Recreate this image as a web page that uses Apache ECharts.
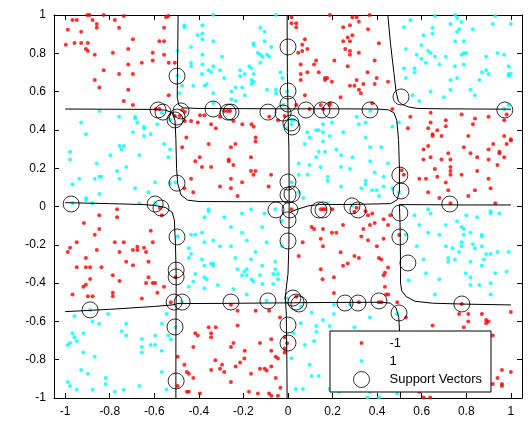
<!DOCTYPE html>
<html><head><meta charset="utf-8">
<script src="https://cdn.jsdelivr.net/npm/echarts@6/dist/echarts.min.js"></script>
<style>html,body{margin:0;padding:0;background:#fff}#c{width:532px;height:421px}</style>
</head><body><div id="c"></div>
<script>
var xTicks = [-1,-0.8,-0.6,-0.4,-0.2,0,0.2,0.4,0.6,0.8,1];
var yTicks = [-1,-0.8,-0.6,-0.4,-0.2,0,0.2,0.4,0.6,0.8,1];
var seriesNames = ['-1','1','Support Vectors'];

var classNeg = [
[-0.90,1.0],[-0.89,1.0],[-0.827,1.0],[-0.737,0.995],[-0.967,0.974],[-0.948,0.974],[-0.877,0.974],[-0.777,0.974],[-0.858,0.953],[-0.858,0.934],[-0.758,0.934],[-0.988,0.923],[-0.928,0.913],[-0.997,0.845],[-0.958,0.854],[-0.928,0.854],[-0.898,0.854],[-0.696,0.873],[-0.907,0.823],[-0.898,0.812],[-0.867,0.793],[-0.786,0.803],[-0.717,0.823],[-0.607,0.803],[-0.556,0.793],[-0.577,0.863],[-0.556,0.863],[-0.556,0.934],[-0.547,0.988],[-0.537,0.995],[-0.656,0.751],[-0.717,0.742],[-0.607,0.762],[-0.535,0.751],[-0.827,0.711],[-0.758,0.692],[-0.696,0.692],[-0.867,0.661],[-0.846,0.621],[-0.717,0.610],[-0.737,0.551],[-0.696,0.530],[-0.535,0.581],[-0.593,0.509],[-0.577,0.509],
[-0.508,0.751],[-0.475,0.504],[-0.463,0.495],[-0.486,0.473],[-0.508,0.473],[-0.463,0.447],[-0.435,0.447],[-0.405,0.438],[-0.395,0.476],[-0.375,0.476],[-0.345,0.429],[-0.324,0.408],[-0.305,0.469],[-0.286,0.499],[-0.271,0.499],[-0.260,0.499],[-0.245,0.447],[-0.205,0.429],[-0.164,0.429],[-0.154,0.417],[-0.084,0.469],[-0.045,0.450],[-0.015,0.473],[-0.456,0.360],[-0.145,0.360],
[0.016,0.988],[0.016,0.957],[0.037,0.957],[0.037,0.936],[0.188,1.0],[0.366,1.0],[0.289,0.988],[0.308,0.988],[0.318,0.965],[0.248,0.936],[0.278,0.946],[0.359,0.925],[0.076,0.873],[0.064,0.845],[0.087,0.823],[0.046,0.803],[0.064,0.812],[0.248,0.863],[0.268,0.883],[0.289,0.894],[0.278,0.863],[0.257,0.823],[0.278,0.812],[0.278,0.793],[0.318,0.803],[0.408,0.852],[0.208,0.762],[0.126,0.762],[0.117,0.742],[0.057,0.742],[0.389,0.762],[0.268,0.732],[0.087,0.701],[0.057,0.692],[0.138,0.701],[0.357,0.701],[0.057,0.661],[0.166,0.671],[0.176,0.671],[0.166,0.661],[0.197,0.652],[0.308,0.661],[0.338,0.640],[0.278,0.631],[0.298,0.631],[0.389,0.640],[0.398,0.671],[0.449,0.652],[0.318,0.610],[0.327,0.591],[0.076,0.581],[0.236,0.570],[0.378,0.539],[0.188,0.539],[0.147,0.530],[0.158,0.509],[0.187,0.530],[0.097,0.509],[0.037,0.530],[0.468,0.509],
[0.640,0.490],[0.549,0.469],[0.779,0.480],[0.839,0.459],[0.900,0.469],[0.981,0.480],[0.970,0.450],[0.640,0.438],[0.708,0.450],[0.708,0.419],[0.830,0.429],[0.538,0.408],[0.629,0.408],[0.670,0.398],[0.649,0.377],[0.649,0.368],[0.689,0.368],[0.809,0.368],[0.970,0.368],[1.0,0.351],
[-0.767,-0.015],[-0.575,-0.008],[-0.566,-0.046],[-0.847,-0.046],[-0.767,-0.056],[-0.916,-0.086],[-0.847,-0.117],[-0.616,-0.126],[-0.867,-0.147],[-0.948,-0.187],[-0.777,-0.187],[-0.737,-0.187],[-0.607,-0.187],[-0.978,-0.216],[-0.988,-0.237],[-0.858,-0.227],[-0.756,-0.237],[-0.676,-0.210],[-0.696,-0.227],[-0.676,-0.227],[-0.646,-0.216],[-0.637,-0.237],[-0.907,-0.269],[-0.726,-0.288],[-0.626,-0.288],[-0.696,-0.307],[-0.948,-0.317],[-0.907,-0.317],[-0.888,-0.317],[-0.837,-0.317],
[-0.475,0.309],[-0.356,0.326],[-0.256,0.309],[-0.236,0.326],[-0.146,0.339],[-0.396,0.257],[-0.416,0.236],[-0.266,0.246],[-0.266,0.236],[-0.166,0.257],[-0.386,0.206],[-0.345,0.206],[-0.245,0.217],[-0.166,0.185],[-0.146,0.185],[-0.155,0.166],[-0.076,0.166],[-0.435,0.145],[-0.256,0.145],[-0.206,0.126],[-0.305,0.105],[-0.256,0.095],[-0.087,0.105],[-0.465,0.095],[-0.425,0.074],[-0.226,0.055],
[0.520,0.166],[0.510,0.189],[0.147,-0.015],[0.157,-0.015],[0.166,-0.015],[0.199,-0.015],[0.308,-0.006],[0.298,-0.027],[0.348,-0.025],[0.378,-0.036],[0.359,-0.046],[0.429,-0.067],[0.459,-0.046],[0.016,-0.015],[0.389,-0.086],[0.368,-0.096],[0.449,-0.096],[0.338,-0.117],[0.247,-0.096],[0.157,-0.117],[0.106,-0.107],[0.117,-0.117],[0.197,-0.137],[0.217,-0.137],[0.147,-0.168],[0.329,-0.157],[0.359,-0.176],[0.429,-0.168],[0.066,-0.187],[0.157,-0.208],[0.499,-0.149],[0.399,-0.208],[0.236,-0.239],[0.048,-0.258],[0.298,-0.258],[0.318,-0.269],[0.408,-0.269],[0.419,-0.277],[0.268,-0.298],[0.247,-0.309],[0.449,-0.319],[0.147,-0.328],
[0.629,0.316],[0.608,0.297],[0.789,0.309],[0.921,0.326],[0.981,0.326],[1.0,0.344],[0.719,0.278],[0.819,0.278],[0.900,0.297],[0.949,0.286],[0.949,0.278],[0.970,0.257],[0.608,0.246],[0.640,0.257],[0.689,0.246],[0.729,0.246],[0.849,0.257],[0.900,0.246],[0.729,0.206],[0.729,0.185],[0.729,0.166],[0.659,0.196],[0.849,0.185],[0.940,0.217],[0.670,0.156],[0.779,0.166],[0.589,0.145],[0.619,0.145],[0.900,0.145],[0.708,0.125],[0.909,0.095],[0.629,0.074],[0.839,0.085],[0.809,0.055],[0.679,0.045],[0.719,0.085],[0.729,0.017],[0.930,0.017],
[-0.888,-0.379],[-0.786,-0.359],[-0.756,-0.389],[-0.907,-0.408],[-0.918,-0.419],[-0.967,-0.459],[-0.898,-0.469],[-0.877,-0.469],[-0.786,-0.450],[-0.786,-0.469],[-0.626,-0.370],[-0.637,-0.399],[-0.607,-0.399],[-0.596,-0.399],[-0.556,-0.419],[-0.586,-0.450],[-0.656,-0.481],[-0.526,-0.500],
[-0.505,-0.370],[-0.256,-0.513],[-0.226,-0.544],[-0.145,-0.544],[-0.085,-0.544],[-0.036,-0.579],[-0.226,-0.622],[-0.356,-0.631],[-0.324,-0.631],[-0.345,-0.662],[-0.345,-0.683],[-0.416,-0.662],[-0.405,-0.673],[-0.075,-0.693],[-0.015,-0.683],[-0.004,-0.714],[-0.245,-0.713],[-0.256,-0.734],[-0.425,-0.734],[-0.126,-0.713],[-0.194,-0.753],[-0.075,-0.753],[-0.055,-0.784],[-0.045,-0.794],[-0.015,-0.742],[-0.015,-0.763],[-0.495,-0.784],[-0.326,-0.803],[-0.215,-0.815],[-0.196,-0.794],[-0.296,-0.826],[-0.235,-0.836],[-0.305,-0.847],[-0.345,-0.854],[-0.286,-0.864],[-0.126,-0.847],[-0.105,-0.847],[-0.096,-0.857],[-0.075,-0.836],[-0.465,-0.826],[-0.454,-0.864],[-0.445,-0.874],[-0.425,-0.895],[-0.166,-0.874],[-0.055,-0.895],[-0.256,-0.916],[-0.495,-0.937],[-0.034,-0.946],[-0.454,-0.967],[-0.445,-0.967],[-0.395,-0.977],[-0.175,-0.967],[-0.135,-0.977],[-0.085,-0.977],[-0.075,-0.988],[-0.045,-0.988],
[0.155,-0.380],[0.206,-0.370],[0.435,-0.346],[0.429,-0.359],[0.435,-0.419],[0.206,-0.452],[0.440,-0.460],[0.450,-0.460],[0.037,-0.471],[0.318,-0.500],[0.408,-0.500],[0.419,-0.500],[0.490,-0.500],
[0.779,-0.509],[1.0,-0.551],[0.768,-0.561],[0.809,-0.561],[0.870,-0.561],[0.809,-0.601],[0.889,-0.593],[0.900,-0.601],[0.889,-0.610],[0.649,-0.622],[0.789,-0.631],[0.529,-0.580],[0.919,-0.673],[0.960,-0.854],[1.0,-0.864],[0.940,-0.895],[0.919,-0.927],[0.960,-0.927],[0.960,-0.937],[0.589,-0.967],[0.659,-0.956],[0.608,-0.998],[0.638,-0.998]
];

var classPos = [
[-0.846,0.499],[-0.928,0.438],[-0.907,0.377],[-0.758,0.469],[-0.686,0.469],[-0.686,0.459],[-0.676,0.438],[-0.646,0.417],[-0.646,0.407],[-0.696,0.388],[-0.646,0.368],[-0.616,0.379],[-0.586,0.429],[-0.566,0.490],[-0.529,0.452],
[-0.335,1.0],[-0.054,1.0],[-0.465,0.946],[-0.465,0.936],[-0.384,0.946],[-0.405,0.894],[-0.384,0.904],[-0.384,0.873],[-0.335,0.863],[-0.124,0.934],[-0.105,0.913],[-0.154,0.852],[-0.154,0.842],[-0.105,0.863],[-0.075,0.833],[-0.435,0.833],[-0.496,0.812],[-0.384,0.793],[-0.296,0.782],[-0.135,0.802],[-0.124,0.793],[-0.114,0.782],[-0.094,0.793],[-0.084,0.782],[-0.124,0.751],[-0.435,0.751],[-0.435,0.732],[-0.384,0.742],[-0.335,0.732],[-0.356,0.711],[-0.345,0.701],[-0.305,0.711],[-0.215,0.711],[-0.173,0.732],[-0.164,0.722],[-0.386,0.692],[-0.194,0.692],[-0.215,0.682],[-0.154,0.692],[-0.286,0.671],[-0.034,0.701],[-0.025,0.671],[-0.164,0.661],[-0.154,0.652],[-0.164,0.640],[-0.365,0.640],[-0.374,0.631],[-0.475,0.631],[-0.425,0.631],[-0.235,0.621],[-0.205,0.621],[-0.254,0.600],[-0.094,0.610],[-0.054,0.610],[-0.054,0.591],[-0.335,0.591],[-0.486,0.591],[-0.194,0.581],[-0.254,0.560],[-0.235,0.551],[-0.335,0.539],[-0.022,0.530],[-0.004,0.600],[-0.496,0.682],[-0.004,0.408],
[0.016,0.429],[0.016,0.452],[0.027,0.452],[0.087,0.388],[0.097,0.360],[0.126,0.398],[0.138,0.398],[0.157,0.429],[0.157,0.388],[0.187,0.368],[0.197,0.438],[0.248,0.388],[0.308,0.469],[0.318,0.429],[0.348,0.438],[0.348,0.360],[0.369,0.499],[0.468,0.417],[0.498,0.438],
[0.549,0.974],[0.659,0.995],[0.750,1.0],[0.759,0.984],[0.779,0.963],[0.729,0.953],[0.930,0.995],[0.919,0.953],[1.0,0.953],[0.649,0.934],[0.649,0.904],[0.608,0.894],[0.768,0.925],[0.759,0.913],[0.830,0.925],[0.750,0.863],[0.789,0.863],[0.599,0.842],[0.529,0.823],[0.578,0.793],[0.629,0.812],[0.640,0.802],[0.599,0.772],[0.619,0.751],[0.659,0.782],[0.708,0.782],[0.779,0.793],[0.789,0.802],[0.800,0.802],[0.889,0.782],[0.940,0.802],[0.970,0.793],[0.679,0.742],[0.749,0.732],[0.789,0.742],[0.568,0.722],[0.568,0.701],[0.870,0.701],[0.889,0.711],[0.900,0.692],[0.990,0.732],[0.990,0.692],[1.0,0.692],[0.990,0.682],[0.529,0.671],[0.759,0.671],[0.729,0.661],[0.859,0.661],[0.729,0.610],[0.819,0.610],[0.640,0.600],[0.559,0.581],[0.839,0.581],[0.700,0.570],[0.589,0.551],[0.990,0.530],[0.970,0.509],[0.52,0.936],[0.52,0.722],
[-0.756,0.316],[-0.737,0.316],[-0.747,0.297],[-0.556,0.326],[-0.978,0.286],[-0.978,0.246],[-0.797,0.267],[-0.667,0.267],[-0.537,0.257],[-0.529,0.297],[-0.858,0.225],[-0.726,0.206],[-0.767,0.185],[-0.846,0.156],[-0.837,0.156],[-0.867,0.145],[-0.756,0.145],[-0.937,0.145],[-0.967,0.116],[-0.596,0.126],[-0.686,0.095],[-0.846,0.065],[-0.626,0.074],[-0.906,0.045],[-0.906,0.034],[-0.877,0.018],[-0.967,0.018],[-0.667,0.017],[-0.596,0.017],[-0.529,0.121],
[-0.505,0.125],[-0.356,-0.015],[-0.356,-0.025],[-0.375,-0.056],[-0.286,-0.056],[-0.206,-0.036],[-0.166,-0.015],[-0.106,-0.036],[-0.057,-0.015],[-0.256,-0.107],[-0.116,-0.107],[-0.027,-0.077],[-0.386,-0.137],[-0.435,-0.147],[-0.416,-0.147],[-0.206,-0.137],[-0.335,-0.177],[-0.375,-0.187],[-0.185,-0.177],[-0.096,-0.187],[-0.305,-0.208],[-0.256,-0.208],[-0.027,-0.208],[-0.495,-0.157],[-0.445,-0.218],[-0.146,-0.237],[-0.435,-0.248],[-0.445,-0.269],[-0.386,-0.277],[-0.236,-0.269],[-0.166,-0.277],[-0.345,-0.298],[-0.335,-0.309],[-0.335,-0.298],[-0.375,-0.309],[-0.116,-0.309],[-0.226,-0.328],[-0.185,-0.328],[-0.057,-0.288],[-0.057,-0.328],
[0.075,0.326],[0.157,0.339],[0.138,0.286],[0.166,0.286],[0.217,0.297],[0.369,0.309],[0.419,0.309],[0.238,0.267],[0.127,0.257],[0.289,0.257],[0.369,0.236],[0.449,0.225],[0.048,0.225],[0.097,0.217],[0.147,0.206],[0.238,0.206],[0.278,0.196],[0.389,0.177],[0.429,0.156],[0.088,0.166],[0.048,0.166],[0.178,0.156],[0.178,0.135],[0.348,0.135],[0.348,0.116],[0.238,0.105],[0.429,0.105],[0.378,0.085],[0.398,0.085],[0.329,0.095],[0.408,0.055],[0.469,0.095],[0.498,0.074],[0.048,0.074],[0.069,0.045],[0.178,0.017],[0.289,0.005],[0.016,0.126],
[0.629,-0.015],[0.640,-0.036],[0.568,-0.046],[0.800,-0.046],[0.849,-0.056],[0.909,-0.025],[0.909,-0.036],[0.949,-0.036],[0.759,-0.077],[0.589,-0.096],[0.708,-0.096],[0.779,-0.107],[0.789,-0.117],[0.629,-0.137],[0.679,-0.147],[0.819,-0.137],[0.870,-0.147],[0.870,-0.157],[0.789,-0.147],[0.779,-0.187],[0.779,-0.208],[0.830,-0.197],[0.708,-0.208],[0.738,-0.218],[0.768,-0.237],[0.839,-0.218],[0.870,-0.208],[0.578,-0.208],[0.889,-0.248],[0.940,-0.237],[0.990,-0.237],[0.909,-0.248],[0.719,-0.269],[0.719,-0.288],[0.749,-0.277],[0.608,-0.277],[0.819,-0.288],[0.879,-0.277],[0.870,-0.309],[0.529,-0.147],
[-0.958,-0.572],[-0.888,-0.540],[-0.877,-0.601],[-0.847,-0.612],[-0.807,-0.561],[-0.726,-0.612],[-0.746,-0.652],[-0.726,-0.673],[-0.967,-0.662],[-0.918,-0.662],[-0.958,-0.683],[-0.948,-0.702],[-0.978,-0.713],[-0.988,-0.723],[-0.918,-0.763],[-0.867,-0.784],[-0.656,-0.692],[-0.656,-0.734],[-0.656,-0.763],[-0.616,-0.723],[-0.596,-0.723],[-0.596,-0.673],[-0.566,-0.753],[-0.566,-0.612],[-0.545,-0.561],[-0.537,-0.673],[-0.526,-0.693],[-0.928,-0.854],[-0.898,-0.874],[-0.818,-0.895],[-0.988,-0.916],[-0.978,-0.937],[-0.818,-0.927],[-0.948,-0.957],[-0.877,-0.957],[-0.777,-0.967],[-0.737,-0.957],[-0.667,-0.937],[-0.566,-0.864],[-0.545,-0.956],
[-0.416,-0.353],[-0.375,-0.370],[-0.365,-0.380],[-0.425,-0.392],[-0.445,-0.419],[-0.375,-0.427],[-0.315,-0.410],[-0.245,-0.431],[-0.206,-0.359],[-0.196,-0.340],[-0.185,-0.359],[-0.164,-0.380],[-0.155,-0.392],[-0.126,-0.359],[-0.066,-0.353],[-0.045,-0.353],[-0.115,-0.405],[-0.066,-0.405],[-0.185,-0.460],[-0.045,-0.380],[-0.096,-0.492],[-0.475,-0.500],[-0.505,-0.631],[-0.004,-0.481],
[0.058,-0.523],[0.206,-0.513],[0.278,-0.513],[0.106,-0.553],[0.206,-0.561],[0.368,-0.579],[0.157,-0.593],[0.187,-0.624],[0.057,-0.610],[0.127,-0.624],[0.298,-0.631],[0.127,-0.654],[0.025,-0.662],[0.490,-0.561],[0.076,-0.723],[0.117,-0.702],[0.016,-0.793],[0.097,-0.826],[0.106,-0.885],[0.138,-0.885],[0.034,-0.953],[0.067,-0.953],[0.187,-0.953],[0.229,-0.967],[0.368,-0.967],[0.357,-0.998],[0.408,-0.998],[0.490,-0.977],
[0.541,-0.387],[0.619,-0.349],[0.679,-0.380],[0.798,-0.349],[0.819,-0.370],[0.819,-0.410],[0.859,-0.410],[0.909,-0.401],[0.930,-0.349],[0.981,-0.340],[0.909,-0.460],[0.659,-0.460]
];

var supportVectors = [
[0,0.833],[-0.498,0.681],[0,0.603],[0,0.535],[-0.583,0.504],[-0.561,0.493],[-0.498,0.467],[-0.480,0.499],[-0.507,0.452],[-0.336,0.509],[-0.269,0.493],[-0.256,0.493],[-0.090,0.493],[-0.022,0.488],[0.013,0.436],[0.018,0.415],[0.081,0.504],[0.152,0.504],[0.193,0.504],[0.368,0.504],[0.507,0.572],[0.973,0.504],[-0.498,0.122],[0.502,0.164],[0,0.128],[0.018,0.065],[0,0.060],[0.507,0.081],[-0.973,0.013],[-0.596,0.013],[-0.570,-0.008],[-0.054,-0.018],[0.009,-0.018],[0.139,-0.018],[0.157,-0.018],[0.287,0.003],[0.314,-0.018],[0.726,0.013],[0.502,-0.034],[0,-0.070],[0.502,-0.159],[-0.498,-0.159],[0,-0.180],[0.538,-0.295],[-0.502,-0.332],[-0.502,-0.368],[-0.511,-0.499],[-0.888,-0.540],[-0.475,-0.499],[-0.256,-0.499],[-0.090,-0.493],[0.022,-0.478],[0.036,-0.499],[0.049,-0.509],[0.256,-0.504],[0.314,-0.504],[0.408,-0.493],[0.498,-0.556],[0.780,-0.509],[0,-0.619],[-0.507,-0.629],[0,-0.713],[-0.502,-0.911]
];

// decision boundary (zero-level contour) pieces
var boundaryA = [[-0.493,1.0],[-0.496,0.7],[-0.497,0.57],[-0.49,0.53],[-0.47,0.515],[-0.4,0.512],[-0.2,0.511],[0,0.510],[0.2,0.510],[0.4,0.509],[0.45,0.505],[0.475,0.49],[0.488,0.45],[0.496,0.35],[0.5,0.2],[0.5,0.08],[0.49,0.035],[0.46,0.015],[0.3,0.011],[0.14,0.01],[0.09,0.003],[0.04,-0.015],[0.01,-0.03]];
var boundaryB = [[-1.0,0.509],[-0.6,0.507],[-0.55,0.503],[-0.52,0.49],[-0.507,0.45],[-0.503,0.35],[-0.5,0.2],[-0.495,0.12],[-0.48,0.06],[-0.45,0.033],[-0.4,0.026],[-0.2,0.025],[0.0,0.025]];
var boundaryC = [[0.448,1.0],[0.46,0.85],[0.475,0.7],[0.485,0.6],[0.495,0.55],[0.51,0.535],[0.54,0.52],[0.58,0.512],[0.7,0.51],[1.0,0.508]];
var boundaryD = [[-1.0,0.02],[-0.8,0.015],[-0.65,0.01],[-0.6,0.006],[-0.55,-0.005],[-0.52,-0.03],[-0.51,-0.07],[-0.505,-0.2],[-0.502,-0.35],[-0.502,-0.5],[-0.503,-0.7],[-0.503,-1.0]];
var boundaryE = [[-0.004,1.0],[-0.003,0.7],[0,0.5],[0.004,0.3],[0.005,0.1],[0.005,0],[0.004,-0.2],[0,-0.35],[-0.01,-0.45],[-0.012,-0.48],[-0.008,-0.55],[-0.005,-0.8],[-0.004,-1.0]];
var boundaryF = [[0.5,0.01],[0.8,0.008],[1.0,0.008]];
var boundaryG = [[-1.0,-0.549],[-0.8,-0.537],[-0.6,-0.522],[-0.52,-0.514],[-0.503,-0.51]];
var boundaryH = [[-0.5,-0.507],[-0.3,-0.506],[-0.1,-0.504],[0,-0.503],[0.2,-0.501],[0.42,-0.50],[0.46,-0.505],[0.485,-0.53],[0.497,-0.58],[0.503,-0.7],[0.505,-1.0]];
var boundaryI = [[0.5,0.01],[0.503,-0.1],[0.505,-0.3],[0.505,-0.4],[0.51,-0.44],[0.53,-0.47],[0.57,-0.495],[0.65,-0.505],[0.8,-0.51],[1.0,-0.514]];
var boundaries = [boundaryA,boundaryB,boundaryC,boundaryD,boundaryE,boundaryF,boundaryG,boundaryH,boundaryI];

var FONT = 'Liberation Sans, Arial, Helvetica, sans-serif';
// legend icons share a 46x16 box so they are centred in the item slot
var dotIcon = 'path://M0,0M46,16M21,8a2,2 0 1,0 4,0a2,2 0 1,0 -4,0z';
var ringIcon = 'path://M0,0M46,16M15,8a8,8 0 1,0 16,0a8,8 0 1,0 -16,0z';

var chart = echarts.init(document.getElementById('c'), null, {renderer:'canvas'});

function axisCommon(ticks, showLabel){
  return {
    axisLine:{show:true, onZero:false, lineStyle:{color:'#000', width:1}},
    axisTick:{show:true, inside:true, length:5, customValues:ticks, lineStyle:{color:'#000'}},
    axisLabel:{show:showLabel, customValues:ticks, color:'#000', fontFamily:FONT, fontSize:12, margin:8},
    splitLine:{show:false}
  };
}

var xb = Object.assign({type:'value', min:-1.05, max:1.05, position:'bottom', gridIndex:0}, axisCommon(xTicks, true));
var xt = Object.assign({type:'value', min:-1.05, max:1.05, position:'top', gridIndex:0}, axisCommon(xTicks, false));
var yl = Object.assign({type:'value', min:-1, max:1, position:'left', gridIndex:0}, axisCommon(yTicks, true));
var yr = Object.assign({type:'value', min:-1, max:1, position:'right', gridIndex:0}, axisCommon(yTicks, false));

var series = [
  {name:seriesNames[0], type:'scatter', data:classNeg, symbol:'circle', symbolSize:4, itemStyle:{color:'#ff0000'}, z:2, silent:true},
  {name:seriesNames[1], type:'scatter', data:classPos, symbol:'circle', symbolSize:4, itemStyle:{color:'#00ffff'}, z:2, silent:true}
];
boundaries.forEach(function(b){
  series.push({type:'line', data:b, showSymbol:false, symbol:'none', lineStyle:{color:'#000', width:1}, z:3, silent:true, animation:false});
});
series.push({name:seriesNames[2], type:'scatter', data:supportVectors, symbol:'circle', symbolSize:16,
  itemStyle:{color:'rgba(0,0,0,0)', borderColor:'#000', borderWidth:1}, z:4, silent:true});

chart.setOption({
  animation:false,
  backgroundColor:'#fff',
  grid:{left:54, right:10, top:15, bottom:23, containLabel:false},
  xAxis:[xb, xt],
  yAxis:[yl, yr],
  legend:{
    orient:'vertical', left:330, top:331, itemWidth:46, itemHeight:16, itemGap:2,
    padding:[4,9,4,8], backgroundColor:'#fff', borderColor:'#000', borderWidth:1,
    textStyle:{fontFamily:FONT, fontSize:13, color:'#000'},
    selectedMode:false,
    data:[
      {name:seriesNames[0], icon:dotIcon, itemStyle:{color:'#ff0000', borderWidth:0}},
      {name:seriesNames[1], icon:dotIcon, itemStyle:{color:'#00ffff', borderWidth:0}},
      {name:seriesNames[2], icon:ringIcon, itemStyle:{color:'rgba(0,0,0,0)', borderColor:'#000', borderWidth:1}}
    ]
  },
  series:series
});
</script></body></html>
